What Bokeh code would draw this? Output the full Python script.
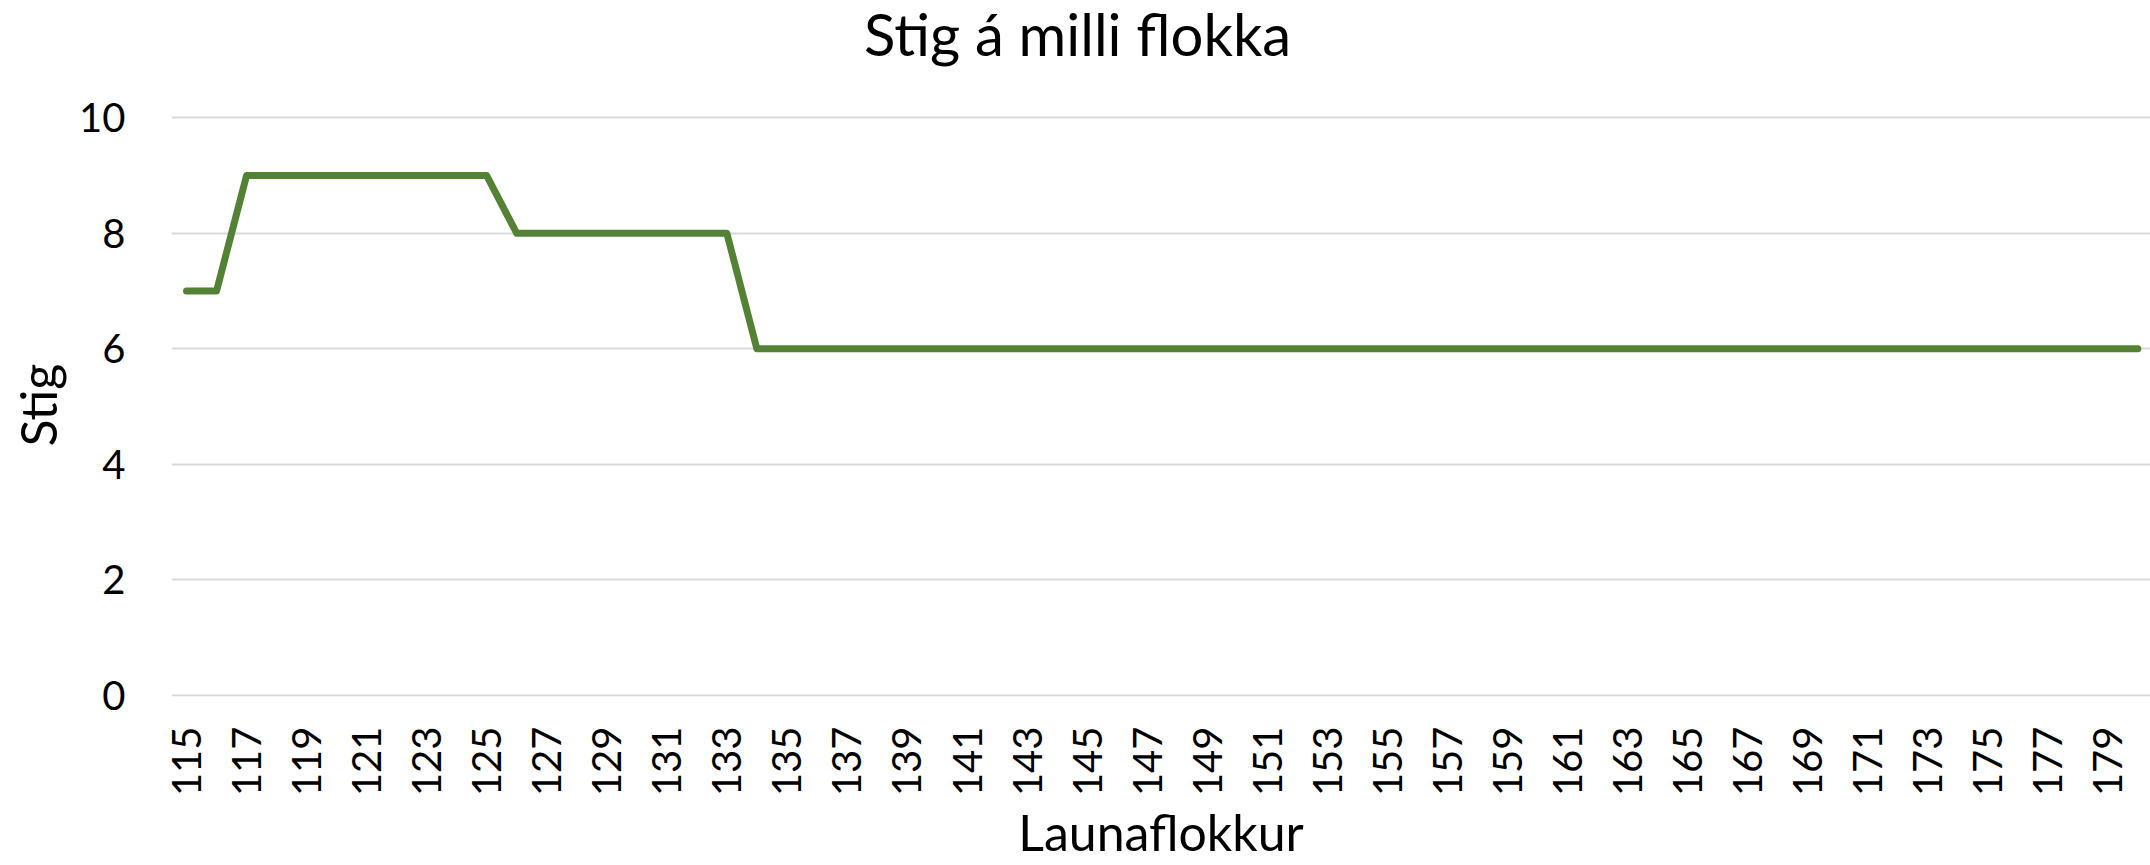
import math
from bokeh.plotting import figure
from bokeh.models import Range1d, FixedTicker, Label, Title
from bokeh.embed import file_html
from bokeh.resources import INLINE

# ---- data ----
launaflokkur = [115, 116, 117, 118, 119, 120, 121, 122, 123, 124, 125, 126, 127, 128,
                129, 130, 131, 132, 133, 134, 135, 136, 137, 138, 139, 140, 141, 142,
                143, 144, 145, 146, 147, 148, 149, 150, 151, 152, 153, 154, 155, 156,
                157, 158, 159, 160, 161, 162, 163, 164, 165, 166, 167, 168, 169, 170,
                171, 172, 173, 174, 175, 176, 177, 178, 179, 180]
stig = [7, 7, 9, 9, 9, 9, 9, 9, 9, 9, 9, 8, 8, 8,
        8, 8, 8, 8, 8, 6, 6, 6, 6, 6, 6, 6, 6, 6,
        6, 6, 6, 6, 6, 6, 6, 6, 6, 6, 6, 6, 6, 6,
        6, 6, 6, 6, 6, 6, 6, 6, 6, 6, 6, 6, 6, 6,
        6, 6, 6, 6, 6, 6, 6, 6, 6, 6]
x_tick_labels = [115, 117, 119, 121, 123, 125, 127, 129, 131, 133, 135, 137, 139, 141,
                 143, 145, 147, 149, 151, 153, 155, 157, 159, 161, 163, 165, 167, 169,
                 171, 173, 175, 177, 179]
y_tick_labels = [0, 2, 4, 6, 8, 10]

title_text = "Stig á milli flokka"
x_title = "Launaflokkur"
y_title = "Stig"

FONT = "Lato"
W, H = 2150, 865
ML, MR, MT, MB = 169, 0, 0, 168
PX_PER_X = 30.05          # pixels per category step
PX_PER_Y = 57.84          # pixels per unit of Stig
x0 = launaflokkur[0] - 0.5
x1 = x0 + (W - ML - MR) / PX_PER_X
y0 = -0.02
y1 = y0 + (H - MT - MB) / PX_PER_Y   # room above the plot area for the title

p = figure(width=W, height=H, output_backend="svg", toolbar_location=None,
           x_range=Range1d(x0, x1), y_range=Range1d(y0, y1),
           min_border_left=ML, min_border_right=MR, min_border_top=MT, min_border_bottom=MB)
p.outline_line_color = None
p.background_fill_color = "white"
p.border_fill_color = "white"

p.line(launaflokkur, stig, line_color="#548235", line_width=7,
       line_cap="round", line_join="round")

# chart title, centred on the whole chart (placed inside the top margin of the plot area)
title_x = x0 + (1076 - ML) / PX_PER_X
title_y = y_tick_labels[-1] + (117.5 - 33) / PX_PER_Y
p.add_layout(Label(x=title_x, y=title_y, text=title_text, text_align="center",
                   text_baseline="middle", text_font=FONT,
                   text_font_size="58px", text_color="black"))

# axes
p.xaxis.ticker = FixedTicker(ticks=x_tick_labels)
p.yaxis.ticker = FixedTicker(ticks=y_tick_labels)
for ax in (p.xaxis[0], p.yaxis[0]):
    ax.axis_line_color = None
    ax.major_tick_line_color = None
    ax.minor_tick_line_color = None
    ax.major_tick_in = 0
    ax.major_tick_out = 0
    ax.minor_tick_in = 0
    ax.minor_tick_out = 0
    ax.major_label_text_font = FONT
    ax.major_label_text_font_size = "40px"
    ax.major_label_text_color = "black"
    ax.axis_label_text_font = FONT
    ax.axis_label_text_font_size = "50px"
    ax.axis_label_text_font_style = "normal"
    ax.axis_label_text_color = "black"
p.xaxis.major_label_orientation = math.pi / 2
p.xaxis.major_label_standoff = 30
p.yaxis.major_label_standoff = 46

p.xaxis.axis_label = x_title
p.xaxis.axis_label_standoff = 3

# y-axis title, centred on the 0-10 part of the axis
p.add_layout(Title(text=y_title, align="left", offset=250, vertical_align="top",
                   standoff=14, text_font=FONT, text_font_size="50px",
                   text_font_style="normal", text_color="black"), "left")

p.xgrid.grid_line_color = None
p.ygrid.grid_line_color = "#d9d9d9"
p.ygrid.grid_line_width = 2

open("out.html", "w").write(file_html(p, INLINE))
